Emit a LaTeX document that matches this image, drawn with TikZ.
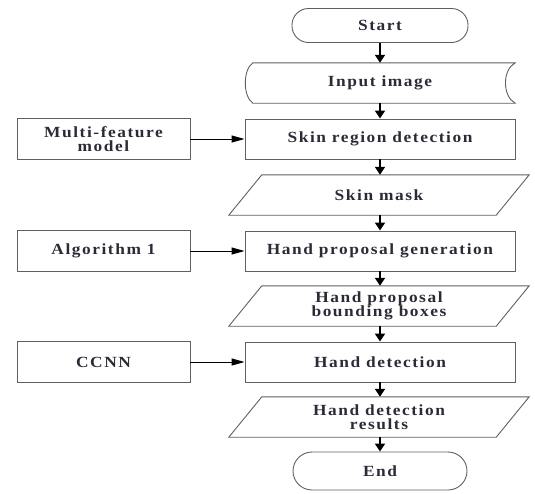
\documentclass[tikz,border=0pt]{standalone}
\usepackage{fontspec}
\setmainfont{Liberation Serif}[FakeStretch=1.12, LetterSpace=10]
\usetikzlibrary{arrows.meta,calc}
\definecolor{txtc}{HTML}{2B2B38}
\definecolor{linec}{HTML}{606060}
\newcommand{\lblfont}{\fontsize{15.5}{14.5}\selectfont\bfseries}
\begin{document}
\begin{tikzpicture}[x=1pt,y=-1pt,
  shp/.style={draw=linec, line width=0.9pt},
  box/.style={shp, rectangle, minimum width=270, minimum height=40, font=\lblfont, text=txtc, align=center, inner sep=0pt},
  sidebox/.style={shp, rectangle, minimum width=173, minimum height=41, font=\lblfont, text=txtc, align=center, inner sep=0pt},
  plain/.style={rectangle, minimum width=267, minimum height=40, font=\lblfont, text=txtc, align=center, inner sep=0pt},
  term/.style={shp, rectangle, rounded corners=16.5pt, minimum width=176, minimum height=34, font=\lblfont, text=txtc, inner sep=0pt},
  varrow/.style={-{Triangle[width=10pt,length=8pt]}, line width=1.8pt, draw=black},
  harrow/.style={-{Triangle[width=7pt,length=13pt]}, line width=1pt, draw=black}]
\useasboundingbox (0,0) rectangle (535,493);

% main column
\node[term] (start) at (380,25.5) {Start};
\node[plain, minimum width=270] (inp) at (380,83) {Input image};
\node[box] (skin) at (380,139) {Skin region detection};
\node[plain] (mask) at (379,195) {Skin mask};
\node[box] (hpg) at (380,251) {Hand proposal generation};
\node[plain] (hpb) at (379,306) {Hand proposal\\bounding boxes};
\node[box] (hd) at (380,362) {Hand detection};
\node[plain] (hdr) at (379,417) {Hand detection\\results};
\node[term, minimum height=38, minimum width=174, rounded corners=19pt] (end) at (380,471) {End};

% side boxes
\node[sidebox] (mf) at (103.5,139) {Multi-feature\\model};
\node[sidebox] (alg) at (103.5,251) {Algorithm 1};
\node[sidebox] (ccnn) at (103.5,362) {CCNN};

% stored data shape
\draw[shp] ([xshift=8pt]inp.north west) -- (inp.north east)
  .. controls ([xshift=-13pt,yshift=-7pt]inp.north east) and ([xshift=-13pt,yshift=7pt]inp.south east) .. (inp.south east)
  -- ([xshift=8pt]inp.south west)
  .. controls ([xshift=-2pt,yshift=7pt]inp.south west) and ([xshift=-2pt,yshift=-7pt]inp.north west) .. cycle;

% parallelograms
\foreach \n in {mask,hpb,hdr}{
  \draw[shp] ([xshift=-16.5pt]\n.south west) -- ([xshift=16.5pt]\n.north west)
    -- ([xshift=16.5pt]\n.north east) -- ([xshift=-16.5pt]\n.south east) -- cycle;
}

% vertical arrows
\draw[varrow] (start.south) -- (inp.north);
\draw[varrow] (inp.south) -- (skin.north);
\draw[varrow] (skin.south) -- (skin.south |- mask.north);
\draw[varrow] (skin.south |- mask.south) -- (hpg.north);
\draw[varrow] (hpg.south) -- (hpg.south |- hpb.north);
\draw[varrow] (hpg.south |- hpb.south) -- (hd.north);
\draw[varrow] (hd.south) -- (hd.south |- hdr.north);
\draw[varrow] (hd.south |- hdr.south) -- (end.north);

% horizontal arrows
\draw[harrow] (mf.east) -- (skin.west);
\draw[harrow] (alg.east) -- (hpg.west);
\draw[harrow] (ccnn.east) -- (hd.west);
\end{tikzpicture}
\end{document}
